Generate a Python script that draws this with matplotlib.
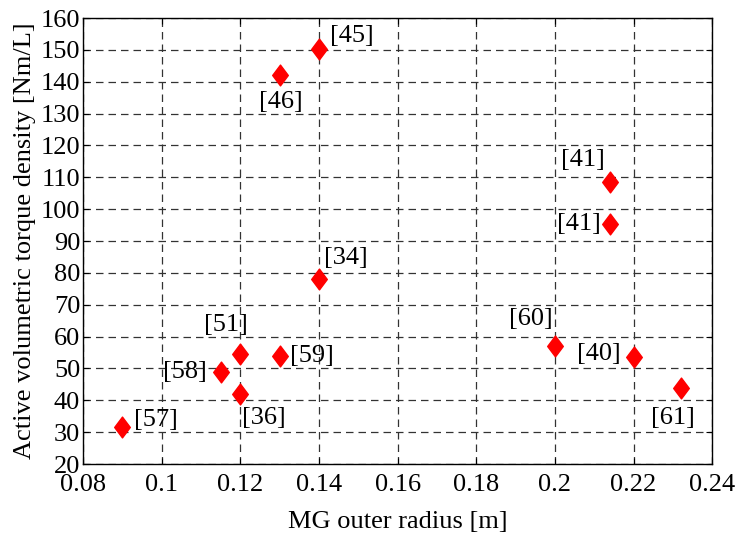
import matplotlib.pyplot as plt
from matplotlib.path import Path

plt.rcParams['font.family'] = ['Liberation Serif', 'DejaVu Serif']

# data
radius = [0.09, 0.115, 0.12, 0.12, 0.13, 0.13, 0.14, 0.14, 0.2, 0.214, 0.214, 0.22, 0.232]
density = [31.7, 49.0, 54.4, 41.9, 54.0, 142.1, 150.2, 78.1, 57.0, 108.4, 95.3, 53.5, 43.8]
refs = ['[57]', '[58]', '[51]', '[36]', '[59]', '[46]', '[45]', '[34]',
        '[60]', '[41]', '[41]', '[40]', '[61]']
# label offsets (pixels) from each marker
offsets = [(34, 7), (-36, 0), (-14, 29), (24, -24), (32, 0), (1, -27), (33, 13),
           (27, 21), (-24, 27), (-27, 22), (-31, 0), (-35, 3), (-8, -30)]

diamond = Path([(0, 1), (0.75, 0), (0, -1), (-0.75, 0), (0, 1)],
               [Path.MOVETO, Path.LINETO, Path.LINETO, Path.LINETO, Path.CLOSEPOLY])

fig = plt.figure(figsize=(7.38, 5.38), dpi=100)
ax = fig.add_axes([0.1125, 0.1375, 0.8525, 0.829])

ax.plot(radius, density, linestyle='none', marker=diamond, markersize=15,
        color='red', markeredgecolor='red', zorder=3)

for x, y, lab, (dx, dy) in zip(radius, density, refs, offsets):
    ax.annotate(lab, (x, y), xytext=(dx, dy), textcoords='offset pixels',
                ha='center', va='center', fontsize=19)

ax.set_xlim(0.08, 0.24)
ax.set_ylim(20, 160)
ax.set_xticks([0.08, 0.1, 0.12, 0.14, 0.16, 0.18, 0.2, 0.22, 0.24])
ax.set_xticklabels(['0.08', '0.1', '0.12', '0.14', '0.16', '0.18', '0.2', '0.22', '0.24'])
ax.set_yticks(range(20, 161, 10))

ax.grid(True, linestyle=(0, (6, 4)), color='#333333', linewidth=0.9)
ax.set_axisbelow(True)
ax.tick_params(direction='in', top=True, right=True, labelsize=19, length=4)
ax.tick_params(axis='x', pad=7)
ax.tick_params(axis='y', pad=2)
for s in ax.spines.values():
    s.set_linewidth(1.0)

ax.set_xlabel('MG outer radius [m]', fontsize=19, labelpad=11)
ax.set_ylabel('Active volumetric torque density [Nm/L]', fontsize=19, labelpad=3)

fig.savefig('out.png', dpi=100)
